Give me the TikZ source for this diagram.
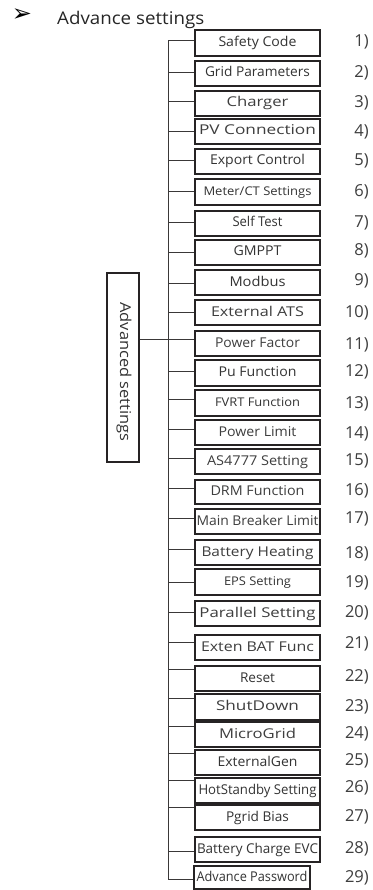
\documentclass[tikz,border=0pt]{standalone}
\usepackage{fontspec}
\usepackage{graphicx}
\setmainfont{Open Sans}
\newfontfamily\symf{DejaVu Sans}
\definecolor{ink}{HTML}{333333}
\definecolor{softink}{HTML}{3E3E3E}
\definecolor{edge}{HTML}{262324}
\definecolor{wire}{HTML}{3A3838}
% scale text horizontally to a given width, keeping its height
\newcommand{\fitt}[3]{\resizebox{#2pt}{\height}{\fontsize{#1}{#1}\selectfont #3}}
\newcommand{\nt}[2]{\fitt{13.5}{#1}{#2}}
\newcommand{\st}[2]{\fitt{12}{#1}{#2}}
\newcommand{\wt}[2]{\fitt{13.5}{#1}{\color{softink}#2}}
\tikzset{
  itembox/.style={draw=edge, line width=1.1pt, inner sep=0pt, minimum width=125pt,
                  text=ink, text height=10pt, text depth=3pt},
  branch/.style={draw=wire, line width=1pt},
  numlabel/.style={anchor=east, inner sep=0pt, text=softink, font=\fontsize{16.5}{16.5}\selectfont},
  advbox/.style={draw=edge, line width=1.1pt, minimum width=32pt, minimum height=189pt, inner sep=0pt}
}
% #1 number, #2 top, #3 bottom, #4 branch y, #5 number y, #6 text
\newcommand{\mkitem}[6]{%
  \node[itembox, minimum height={#3-#2}] (b#1) at (257.5,{(#2+#3)/2}) {#6};
  \coordinate (t#1) at (168,#4);
  \draw[branch] (t#1) -- (t#1 -| b#1.west);
  \node[numlabel] (n#1) at (369,#5) {#1)};
}
\begin{document}
\begin{tikzpicture}[x=1pt,y=-1pt]
\useasboundingbox (0,0) rectangle (372,890);
\fill[white] (0,0) rectangle (372,890);
% header
\node[inner sep=0pt, text=black] (arrow) at (22,15) {\symf\fontsize{24}{24}\selectfont ➢};
\node[anchor=base west, inner sep=0pt, text=black!85] (title) at (57,25) {\fitt{17.5}{147}{Advance settings}};
% items
\mkitem{1}{30}{56}{41}{42}{\nt{78}{Safety Code}}
\mkitem{2}{61}{86}{73}{73}{\nt{105}{Grid Parameters}}
\mkitem{3}{91}{116}{102}{103}{\wt{62}{Charger}}
\mkitem{4}{119}{144}{132}{132}{\wt{117}{PV Connection}}
\mkitem{5}{149}{174}{161}{161}{\nt{95}{Export Control}}
\mkitem{6}{179}{205}{192}{192}{\st{108}{Meter/CT Settings}}
\mkitem{7}{211}{236}{223}{223}{\nt{50}{Self Test}}
\mkitem{8}{240}{265}{253}{251}{\nt{48}{GMPPT}}
\mkitem{9}{270}{295}{283}{281}{\nt{56}{Modbus}}
\mkitem{10}{300}{325}{312}{313}{\wt{93}{External ATS}}
\mkitem{11}{331}{356}{339}{345}{\wt{85}{Power Factor}}
\mkitem{12}{360}{386}{371}{372}{\nt{78}{Pu Function}}
\mkitem{13}{390}{416}{399}{404}{\st{85}{FVRT Function}}
\mkitem{14}{420}{445}{429}{434}{\wt{78}{Power Limit}}
\mkitem{15}{449}{474}{458}{461}{\wt{101}{AS4777 Setting}}
\mkitem{16}{480}{504}{488}{491}{\wt{94}{DRM Function}}
\mkitem{17}{509}{534}{518}{519}{\wt{122}{Main Breaker Limit}}
\mkitem{18}{540}{565}{549}{554}{\wt{112}{Battery Heating}}
\mkitem{19}{569}{595}{582}{583}{\st{67}{EPS Setting}}
\mkitem{20}{601}{626}{612}{613}{\wt{116}{Parallel Setting}}
\mkitem{21}{635}{660}{642}{644}{\wt{113}{Exten BAT Func}}
\mkitem{22}{666}{691}{669}{677}{\nt{35}{Reset}}
\mkitem{23}{694}{720}{698}{707}{\wt{83}{ShutDown}}
\mkitem{24}{722}{747}{726}{734}{\wt{77}{MicroGrid}}
\mkitem{25}{750}{775}{753}{761}{\nt{80}{ExternalGen}}
\mkitem{26}{778}{803}{780}{788}{\nt{118}{HotStandby Setting}}
\mkitem{27}{805}{830}{807}{817}{\nt{63}{Pgrid Bias}}
\mkitem{28}{837}{862}{851}{849}{\nt{121}{Battery Charge EVC}}
% last item (narrower box)
\node[itembox, minimum width=116pt, minimum height=23pt] (b29) at (252,877.5) {\nt{111}{Advance Password}};
\coordinate (t29) at (168,879);
\draw[branch] (t29) -- (t29 -| b29.west);
\node[numlabel] (n29) at (369,878) {29)};
% trunk
\draw[branch] (t1) -- (t29);
% root box
\node[advbox] (adv) at (123,367.5) {};
\node[rotate=-90, inner sep=0pt, text=ink] (advt) at (124,372) {\fitt{15}{139}{Advanced settings}};
\coordinate (j) at (168,339);
\draw[branch] (j -| adv.east) -- (j);
\end{tikzpicture}
\end{document}
